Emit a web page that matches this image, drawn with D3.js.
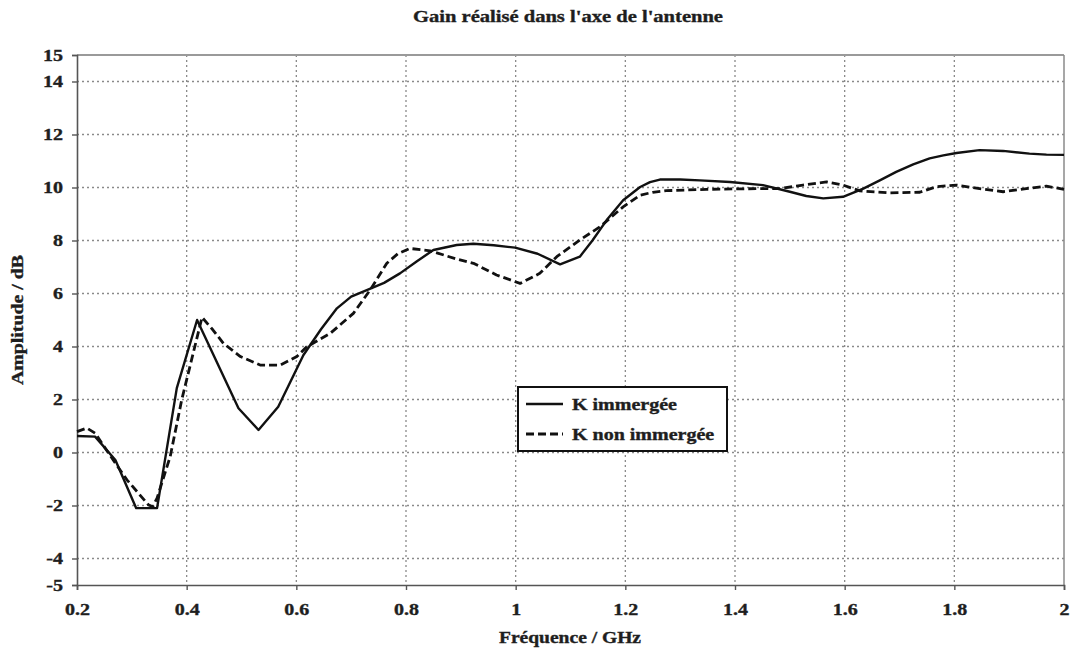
<!DOCTYPE html>
<html>
<head>
<meta charset="utf-8">
<script src="https://cdn.jsdelivr.net/npm/d3@7"></script>
<style>
  html, body { margin: 0; padding: 0; background: #fff; }
  svg { display: block; }
  text { font-family: "Liberation Serif", "Times New Roman", serif; font-weight: 700; fill: #1e1e1e; stroke: #1e1e1e; stroke-width: 0.35px; }
</style>
</head>
<body>
<svg id="chart" width="1072" height="650"></svg>
<script>
// Realised gain along the antenna axis, immersed vs. non-immersed
const freqImmergee = [0.2, 0.233, 0.27, 0.308, 0.346, 0.382, 0.419, 0.4945, 0.531, 0.567, 0.613, 0.645, 0.674, 0.7, 0.7285, 0.76, 0.789, 0.82, 0.85, 0.8925, 0.923, 0.96, 0.999, 1.04, 1.081, 1.117, 1.14, 1.166, 1.196, 1.227, 1.245, 1.263, 1.3, 1.336, 1.391, 1.451, 1.5, 1.53, 1.561, 1.597, 1.634, 1.665, 1.694, 1.725, 1.755, 1.78, 1.804, 1.846, 1.889, 1.937, 1.968, 2.0];
const gainImmergee = [0.62, 0.6, -0.28, -2.1, -2.1, 2.43, 5.0, 1.67, 0.85, 1.73, 3.68, 4.65, 5.44, 5.88, 6.13, 6.4, 6.76, 7.22, 7.64, 7.83, 7.88, 7.82, 7.73, 7.5, 7.1, 7.39, 8.0, 8.77, 9.52, 10.02, 10.2, 10.3, 10.3, 10.27, 10.21, 10.09, 9.84, 9.68, 9.59, 9.65, 9.96, 10.28, 10.59, 10.87, 11.1, 11.21, 11.3, 11.41, 11.38, 11.28, 11.24, 11.23];

const freqNonImmergee = [0.2, 0.218, 0.233, 0.26, 0.291, 0.33, 0.338, 0.346, 0.37, 0.391, 0.428, 0.447, 0.467, 0.498, 0.534, 0.5705, 0.601, 0.619, 0.662, 0.704, 0.7345, 0.765, 0.785, 0.807, 0.844, 0.8925, 0.923, 0.965, 1.008, 1.044, 1.075, 1.117, 1.154, 1.196, 1.227, 1.25, 1.275, 1.348, 1.409, 1.482, 1.524, 1.567, 1.597, 1.628, 1.682, 1.737, 1.767, 1.804, 1.846, 1.889, 1.931, 1.968, 2.0];
const gainNonImmergee = [0.79, 0.92, 0.73, -0.1, -1.03, -1.97, -2.05, -1.72, -0.15, 1.99, 5.1, 4.65, 4.12, 3.62, 3.3, 3.3, 3.62, 3.99, 4.5, 5.25, 6.13, 7.14, 7.5, 7.7, 7.61, 7.3, 7.14, 6.7, 6.38, 6.76, 7.39, 8.02, 8.52, 9.27, 9.71, 9.82, 9.88, 9.93, 9.95, 9.96, 10.09, 10.21, 10.09, 9.87, 9.8, 9.82, 10.03, 10.09, 9.96, 9.84, 9.96, 10.05, 9.93];

const xTicks = [0.2, 0.4, 0.6, 0.8, 1.0, 1.2, 1.4, 1.6, 1.8, 2.0];
const xTickLabels = ["0.2", "0.4", "0.6", "0.8", "1", "1.2", "1.4", "1.6", "1.8", "2"];
const yTicks = [15, 14, 12, 10, 8, 6, 4, 2, 0, -2, -4, -5];
const yTickLabels = ["15", "14", "12", "10", "8", "6", "4", "2", "0", "-2", "-4", "-5"];
const gridY = [14, 12, 10, 8, 6, 4, 2, 0, -2, -4];
const gridX = [0.4, 0.6, 0.8, 1.0, 1.2, 1.4, 1.6, 1.8];

const seriesNames = ["K immergée", "K non immergée"];
const titleText = "Gain réalisé dans l'axe de l'antenne";
const xTitle = "Fréquence / GHz";
const yTitle = "Amplitude / dB";

const W = 1072, H = 650;
const margin = { top: 55, right: 8, bottom: 65, left: 77 };
const svg = d3.select("#chart");

const x = d3.scaleLinear().domain([0.2, 2]).range([margin.left, W - margin.right]);
const y = d3.scaleLinear().domain([-5, 15]).range([H - margin.bottom, margin.top]);

// Horizontal widening applied to every label
const STRETCH = 1.25;
function widen(sel, target) {
  sel.each(function () {
    const len = this.getComputedTextLength();
    d3.select(this)
      .attr("textLength", target != null ? target : len * STRETCH)
      .attr("lengthAdjust", "spacingAndGlyphs");
  });
  return sel;
}

// dotted grid
const grid = svg.append("g").attr("stroke", "#8a8a8a").attr("stroke-width", 1.3).attr("stroke-dasharray", "2,3");
grid.selectAll("line.h").data(gridY).join("line")
  .attr("x1", x(0.2)).attr("x2", x(2)).attr("y1", d => y(d)).attr("y2", d => y(d));
grid.selectAll("line.v").data(gridX).join("line")
  .attr("y1", y(15)).attr("y2", y(-5)).attr("x1", d => x(d)).attr("x2", d => x(d));

// frame: top and right in grey, axes darker
svg.append("line").attr("x1", x(0.2)).attr("x2", x(2)).attr("y1", y(15)).attr("y2", y(15))
  .attr("stroke", "#9a9a9a").attr("stroke-width", 2);
svg.append("line").attr("x1", x(2)).attr("x2", x(2)).attr("y1", y(15)).attr("y2", y(-5))
  .attr("stroke", "#8a8a8a").attr("stroke-width", 1.5);

const yAxis = d3.axisLeft(y).tickValues(yTicks).tickSize(5).tickPadding(9)
  .tickFormat((d, i) => yTickLabels[i]);
const gy = svg.append("g").attr("transform", `translate(${x(0.2)},0)`).call(yAxis);
const xAxis = d3.axisBottom(x).tickValues(xTicks).tickSize(5).tickPadding(14)
  .tickFormat((d, i) => xTickLabels[i]);
const gx = svg.append("g").attr("transform", `translate(0,${y(-5)})`).call(xAxis);

[gx, gy].forEach(g => {
  g.attr("font-family", null).attr("font-size", null);
  g.select(".domain").attr("stroke", "#555").attr("stroke-width", 1.6);
  g.selectAll(".tick line").attr("stroke", "#555").attr("stroke-width", 1.4);
  g.selectAll(".tick text").attr("font-size", 16).attr("fill", "#1e1e1e");
});
widen(gy.selectAll(".tick text"));
widen(gx.selectAll(".tick text"));

// series
const line = d3.line().x(d => x(d[0])).y(d => y(d[1])).curve(d3.curveLinear);
const dataImm = d3.zip(freqImmergee, gainImmergee);
const dataNon = d3.zip(freqNonImmergee, gainNonImmergee);

svg.append("path").datum(dataNon).attr("d", line)
  .attr("fill", "none").attr("stroke", "#111").attr("stroke-width", 2.8)
  .attr("stroke-linejoin", "round").attr("stroke-dasharray", "8,4");
svg.append("path").datum(dataImm).attr("d", line)
  .attr("fill", "none").attr("stroke", "#111").attr("stroke-width", 2.4)
  .attr("stroke-linejoin", "round");

// titles
widen(svg.append("text").attr("x", 568).attr("y", 22).attr("text-anchor", "middle")
  .attr("font-size", 17).text(titleText), 310);
widen(svg.append("text").attr("x", 570).attr("y", 643).attr("text-anchor", "middle")
  .attr("font-size", 16).text(xTitle), 142);
widen(svg.append("text").attr("transform", `translate(23,320) rotate(-90)`).attr("text-anchor", "middle")
  .attr("font-size", 16).text(yTitle), 130);

// legend
const lg = svg.append("g");
lg.append("rect").attr("x", 518).attr("y", 387).attr("width", 209).attr("height", 64)
  .attr("fill", "#fff").attr("stroke", "#111").attr("stroke-width", 2);
const items = [
  { name: seriesNames[0], dash: null, cy: 404 },
  { name: seriesNames[1], dash: "8,4", cy: 434 }
];
items.forEach(it => {
  lg.append("line").attr("x1", 526).attr("x2", 563).attr("y1", it.cy).attr("y2", it.cy)
    .attr("stroke", "#111").attr("stroke-width", it.dash ? 2.8 : 2.4)
    .attr("stroke-dasharray", it.dash);
  widen(lg.append("text").attr("x", 572).attr("y", it.cy + 5.5).attr("font-size", 16).text(it.name));
});
</script>
</body>
</html>
